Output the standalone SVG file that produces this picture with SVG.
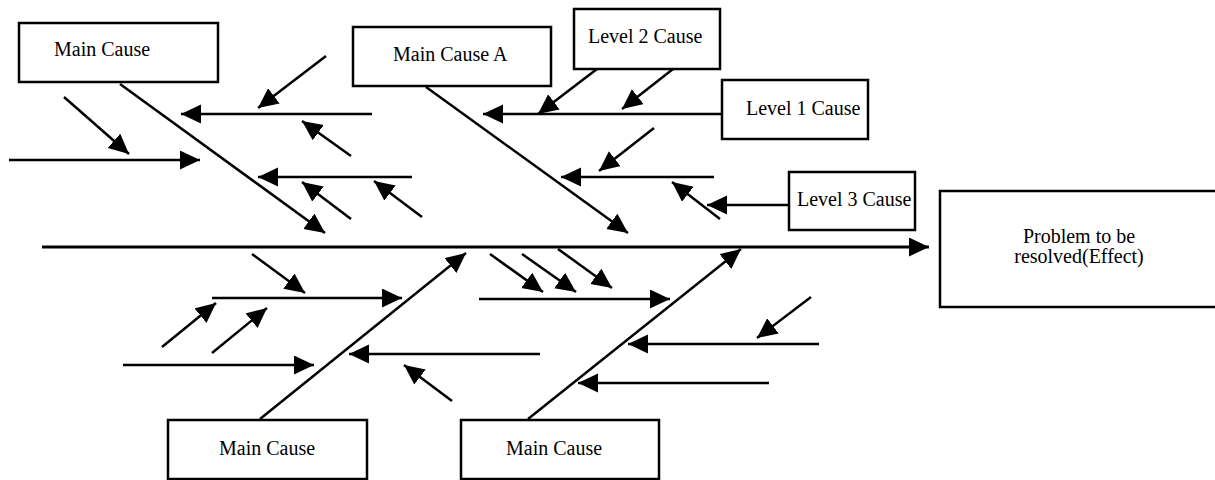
<svg xmlns="http://www.w3.org/2000/svg" width="1215" height="480" viewBox="0 0 1215 480">
<style>
.box{fill:#fff;stroke:#000;stroke-width:2.5}
.lbl{font-family:"Liberation Serif","Times New Roman",serif;font-size:20px;fill:#000}
.c line{stroke:#000;stroke-width:2.5;marker-end:url(#ah)}
</style>
<defs>
<marker id="ah" markerUnits="userSpaceOnUse" markerWidth="21" markerHeight="20" refX="20" refY="9.5" orient="auto">
<path d="M0,0 L20,9.5 L0,19 z" fill="#000"/>
</marker>
</defs>
<rect width="1215" height="480" fill="#fff"/>
<g class="c" id="connectors">
<line x1="42" y1="247" x2="929" y2="247" style="stroke-width:3"/>
<line x1="120" y1="84" x2="325" y2="233"/>
<line x1="372" y1="114" x2="181" y2="114"/>
<line x1="326" y1="56" x2="258" y2="108"/>
<line x1="351" y1="156" x2="302" y2="121"/>
<line x1="9" y1="160" x2="200" y2="160"/>
<line x1="64" y1="97" x2="129" y2="154"/>
<line x1="412" y1="177" x2="258" y2="177"/>
<line x1="351" y1="219" x2="302" y2="182"/>
<line x1="422" y1="217" x2="374" y2="181"/>
<line x1="426" y1="87" x2="628" y2="233"/>
<line x1="722" y1="114" x2="483" y2="114"/>
<line x1="597" y1="69" x2="538" y2="114"/>
<line x1="673" y1="69" x2="622" y2="109"/>
<line x1="714" y1="177" x2="561" y2="177"/>
<line x1="654" y1="128" x2="599" y2="171"/>
<line x1="720" y1="219" x2="672" y2="182"/>
<line x1="789" y1="205" x2="707" y2="205"/>
<line x1="260" y1="419" x2="466" y2="253"/>
<line x1="252" y1="254" x2="305" y2="293"/>
<line x1="212" y1="298" x2="402" y2="298"/>
<line x1="162" y1="347" x2="216" y2="303"/>
<line x1="212" y1="353" x2="267" y2="308"/>
<line x1="123" y1="365" x2="314" y2="365"/>
<line x1="540" y1="354" x2="349" y2="354"/>
<line x1="452" y1="401" x2="404" y2="365"/>
<line x1="528" y1="419" x2="741" y2="249"/>
<line x1="490" y1="254" x2="543" y2="292"/>
<line x1="522" y1="254" x2="576" y2="292"/>
<line x1="558" y1="249" x2="612" y2="288"/>
<line x1="479" y1="299" x2="670" y2="299"/>
<line x1="819" y1="344" x2="628" y2="344"/>
<line x1="811" y1="297" x2="757" y2="338"/>
<line x1="769" y1="383" x2="578" y2="383"/>
</g>
<g id="main-cause-top-left"><rect class="box" x="19" y="23" width="199" height="59"/><text class="lbl" x="54" y="56">Main Cause</text></g>
<g id="main-cause-a"><rect class="box" x="353" y="27" width="198" height="59"/><text class="lbl" x="393" y="61">Main Cause A</text></g>
<g id="level-2-cause"><rect class="box" x="574" y="9" width="146" height="60"/><text class="lbl" x="588" y="43">Level 2 Cause</text></g>
<g id="level-1-cause"><rect class="box" x="722" y="80" width="146" height="59"/><text class="lbl" x="746" y="115">Level 1 Cause</text></g>
<g id="level-3-cause"><rect class="box" x="789" y="172" width="126" height="58"/><text class="lbl" x="797" y="206">Level 3 Cause</text></g>
<g id="problem"><rect class="box" x="940" y="191" width="290" height="116"/><text class="lbl" x="1079" y="243" text-anchor="middle">Problem to be</text><text class="lbl" x="1079" y="263" text-anchor="middle">resolved(Effect)</text></g>
<g id="main-cause-bottom-left"><rect class="box" x="168" y="420" width="199" height="59"/><text class="lbl" x="219" y="455">Main Cause</text></g>
<g id="main-cause-bottom-right"><rect class="box" x="461" y="420" width="198" height="59"/><text class="lbl" x="506" y="455">Main Cause</text></g>
</svg>
